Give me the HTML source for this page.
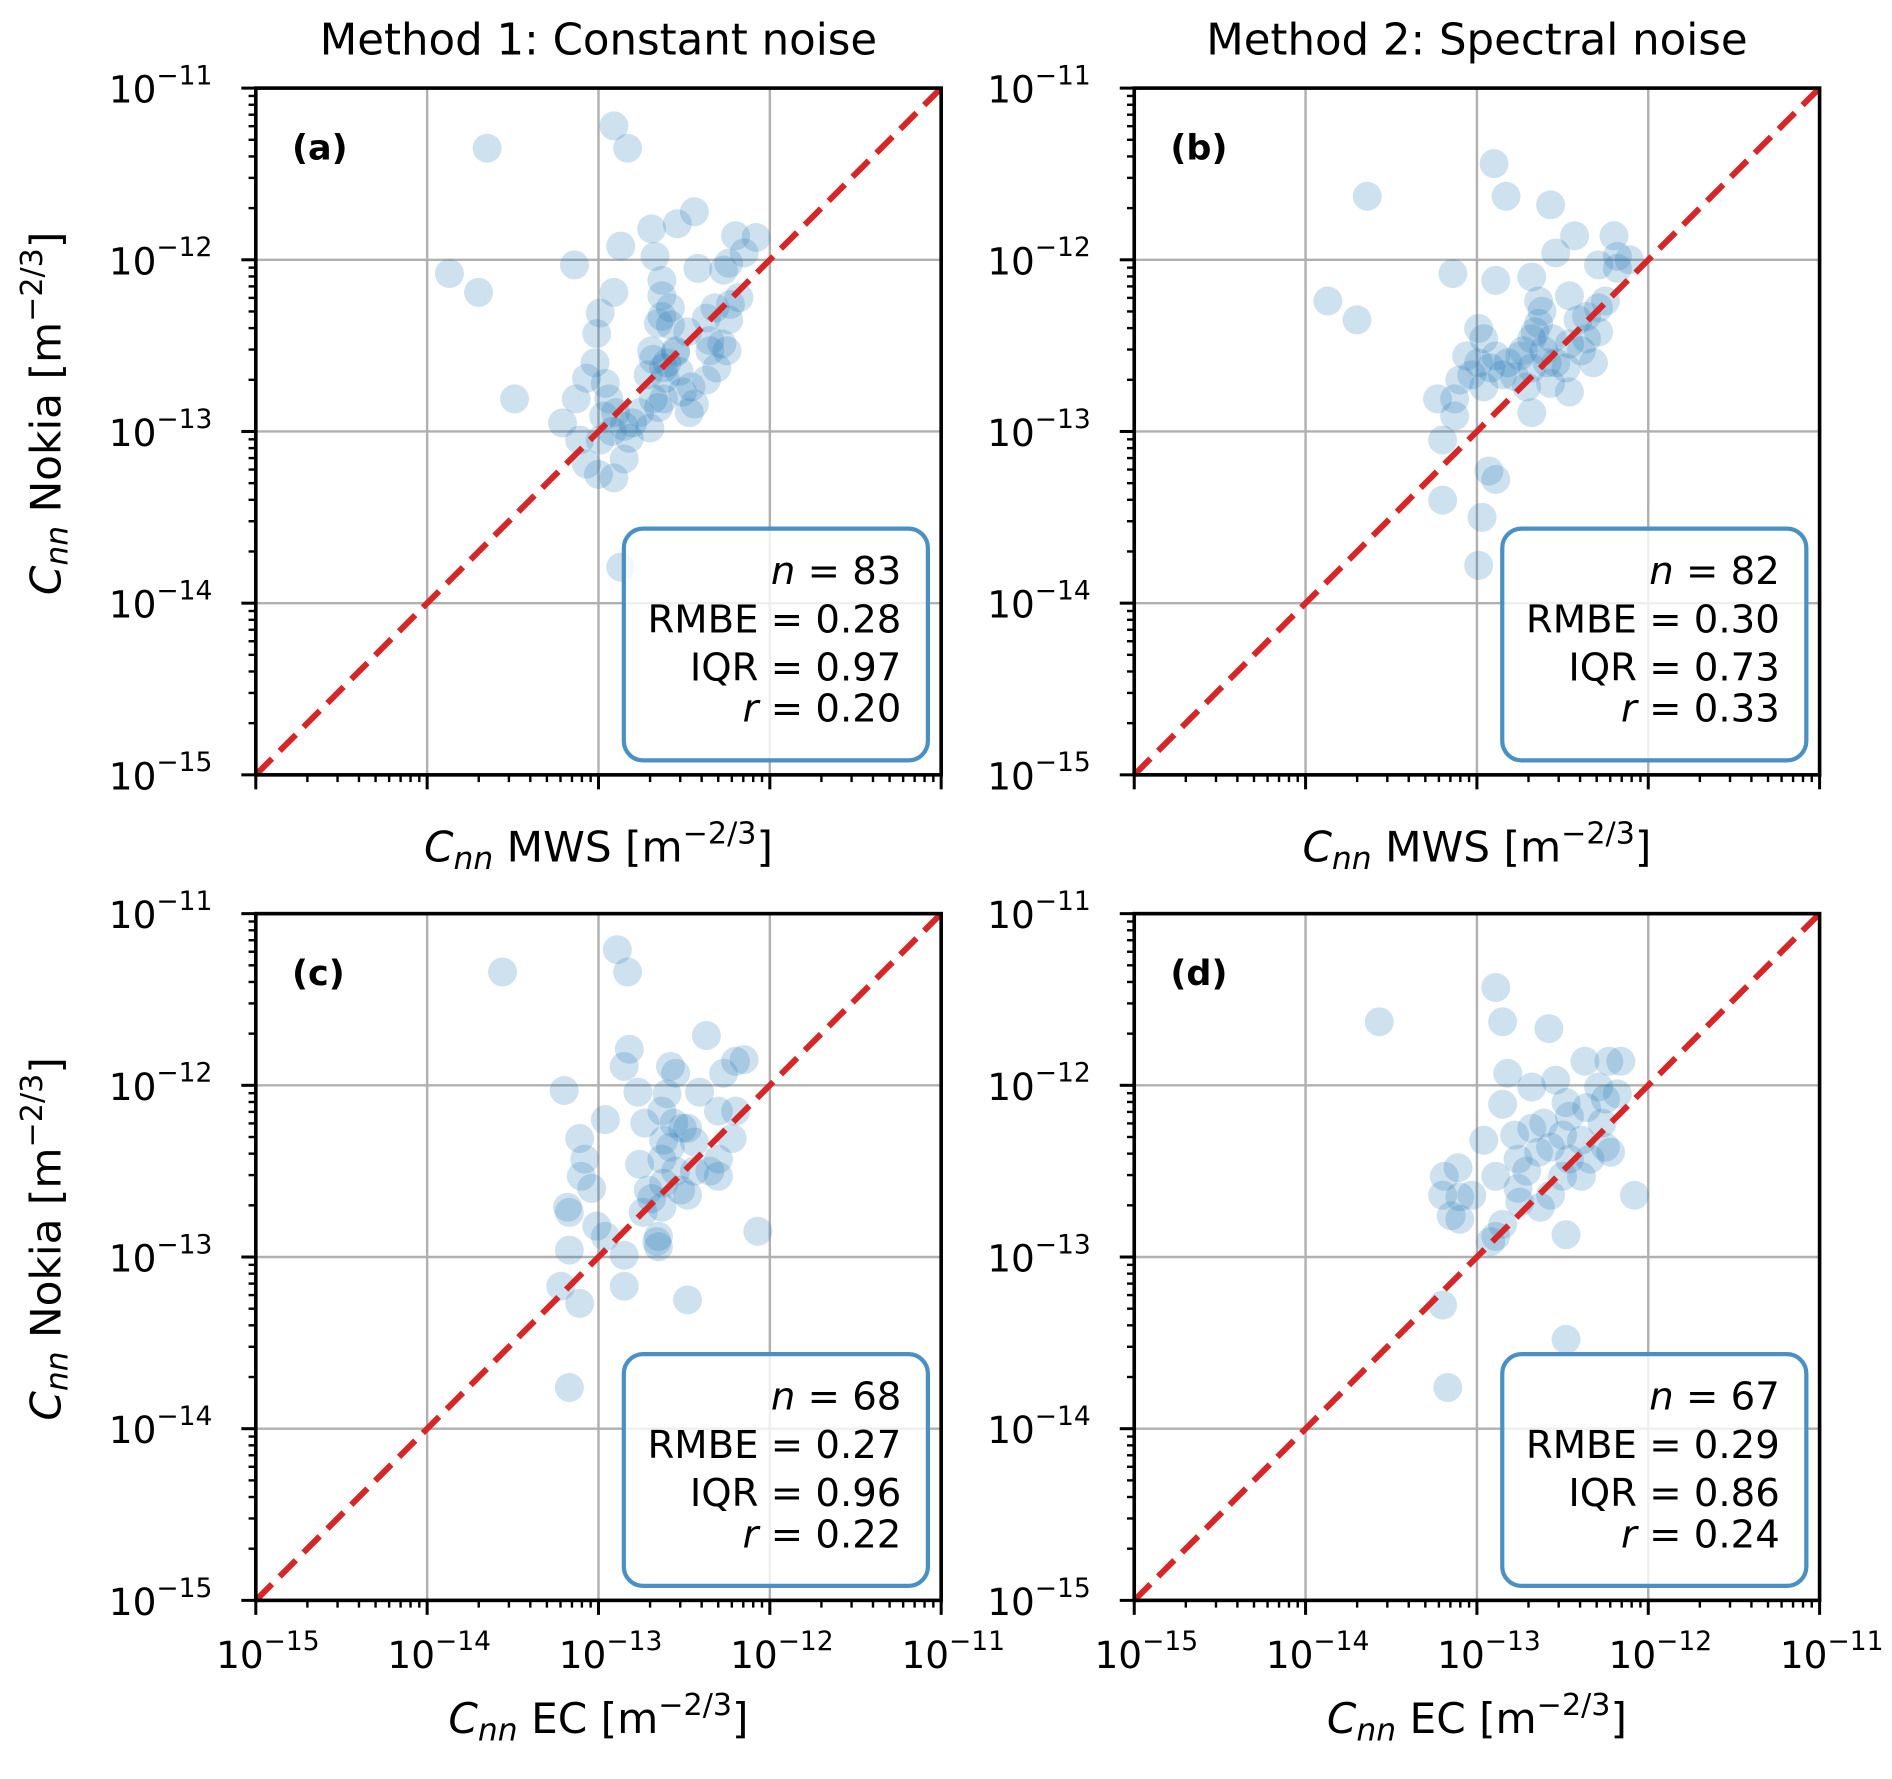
<!DOCTYPE html>
<html><head><meta charset="utf-8">
<style>
html,body{margin:0;padding:0;background:#fff;}
svg{display:block;font-family:"DejaVu Sans","Liberation Sans",sans-serif;}
</style></head>
<body>
<svg id="fig" width="1892" height="1779" viewBox="0 0 1568 1474" preserveAspectRatio="none" xmlns="http://www.w3.org/2000/svg">
<rect width="1568" height="1474" fill="#fff"/>
<text x="496" y="45" font-size="36" text-anchor="middle">Method 1: Constant noise</text>
<text x="1224" y="45" font-size="36" text-anchor="middle">Method 2: Spectral noise</text>
</svg>
<script>
// log10 values
const aX=[-13.65,-12.91,-12.83,-12.44,-12.54,-12.69,-12.87,-12.67,-12.20,-12.08,-12.15,-12.24,-12.42,-12.27,-12.63,-13.14,-12.63,-13.87,-13.70,-12.91,-12.63,-12.58,-12.99,-13.01,-12.32,-12.24,-12.23,-12.55,-12.69,-13.02,-12.68,-12.35,-12.28,-13.07,-13.13,-12.96,-12.71,-12.61,-12.51,-12.31,-12.37,-13.49,-12.94,-12.90,-12.68,-12.46,-12.85,-12.65,-12.80,-13.21,-12.99,-12.47,-12.92,-13.07,-13.00,-12.85,-12.91,-12.87,-12.55,-12.65,-12.60,-12.48,-12.58,-12.37,-12.18,-12.76,-12.62,-12.44,-12.35,-13.11,-12.97,-12.82,-12.70,-12.62,-12.53,-12.25];
const aY=[-11.35,-11.22,-11.35,-11.72,-11.79,-11.82,-11.92,-11.98,-11.86,-11.87,-11.96,-12.02,-12.05,-12.06,-12.12,-12.03,-12.21,-12.08,-12.19,-12.19,-12.33,-12.38,-12.31,-12.43,-12.28,-12.35,-12.26,-12.53,-12.53,-12.60,-12.58,-12.53,-12.49,-12.69,-12.81,-12.72,-12.67,-12.69,-12.77,-12.63,-12.70,-12.81,-12.81,-12.89,-12.81,-12.74,-12.97,-12.86,-12.95,-12.95,-13.05,-12.89,-13.00,-13.19,-13.25,-13.16,-13.27,-13.79,-12.54,-12.37,-12.60,-12.42,-12.28,-12.34,-12.22,-12.89,-12.81,-12.84,-12.47,-13.05,-12.91,-13.04,-12.98,-12.63,-12.65,-12.53];
const bX=[-12.90,-12.83,-12.57,-13.64,-12.43,-12.20,-12.18,-12.54,-12.11,-12.29,-13.14,-12.89,-12.68,-13.87,-13.70,-12.64,-12.46,-12.64,-12.68,-12.25,-12.29,-12.41,-12.99,-12.96,-13.06,-12.99,-13.03,-12.92,-12.75,-12.61,-12.54,-12.46,-12.36,-12.85,-12.78,-12.71,-12.57,-12.46,-12.96,-13.10,-13.13,-12.68,-13.23,-13.20,-13.13,-12.93,-12.89,-13.20,-12.97,-12.99,-12.73,-12.66,-12.62,-12.56,-12.39,-12.48,-12.32,-12.82,-12.89,-12.59,-12.68,-12.29,-12.36,-12.18];
const bY=[-11.44,-11.63,-11.68,-11.63,-11.86,-11.86,-11.98,-11.96,-12.00,-12.03,-12.08,-12.12,-12.10,-12.24,-12.35,-12.24,-12.21,-12.37,-12.46,-12.24,-12.42,-12.35,-12.40,-12.46,-12.56,-12.60,-12.67,-12.63,-12.56,-12.53,-12.60,-12.49,-12.46,-12.67,-12.68,-12.74,-12.72,-12.77,-12.74,-12.70,-12.81,-12.89,-12.81,-13.05,-12.91,-13.23,-13.28,-13.40,-13.50,-13.78,-12.53,-12.42,-12.30,-12.46,-12.53,-12.63,-12.60,-12.60,-12.56,-12.60,-12.63,-12.28,-12.33,-12.05];
const cX=[-13.56,-12.89,-12.83,-12.82,-12.37,-12.85,-12.58,-12.55,-12.20,-12.15,-12.27,-13.20,-12.96,-12.77,-12.41,-12.60,-12.56,-12.63,-12.20,-12.30,-13.11,-12.73,-12.51,-12.48,-12.22,-13.08,-13.10,-12.58,-12.44,-12.76,-12.63,-12.30,-12.30,-12.62,-12.48,-12.69,-12.35,-13.18,-13.17,-13.04,-12.52,-13.01,-12.96,-12.74,-12.63,-13.17,-12.07,-12.65,-12.85,-12.66,-12.65,-13.22,-12.85,-13.11,-12.48,-13.17,-12.71,-12.55,-12.44,-12.62];
const cY=[-11.34,-11.21,-11.34,-11.79,-11.71,-11.89,-11.89,-11.93,-11.86,-11.85,-11.93,-12.03,-12.20,-12.04,-12.04,-12.05,-12.22,-12.15,-12.15,-12.15,-12.31,-12.22,-12.25,-12.25,-12.31,-12.43,-12.53,-12.36,-12.33,-12.46,-12.43,-12.43,-12.53,-12.57,-12.64,-12.66,-12.50,-12.71,-12.74,-12.60,-12.61,-12.82,-12.88,-12.74,-12.71,-12.96,-12.85,-12.88,-12.99,-12.91,-12.94,-13.17,-13.17,-13.27,-13.25,-13.76,-12.61,-12.50,-12.50,-12.32];
const dX=[-12.89,-12.85,-12.58,-13.57,-12.37,-12.23,-12.16,-12.82,-12.54,-12.68,-12.85,-12.48,-12.29,-12.25,-12.18,-12.46,-12.36,-12.78,-12.68,-12.61,-12.50,-12.39,-12.27,-12.76,-12.64,-12.57,-12.46,-12.96,-12.76,-12.71,-12.50,-12.22,-12.25,-12.57,-12.63,-12.75,-12.89,-13.11,-13.19,-13.20,-13.10,-13.03,-13.15,-13.10,-12.08,-12.85,-12.89,-12.48,-12.92,-13.20,-13.17,-12.48,-12.34,-12.39];
const dY=[-11.43,-11.63,-11.67,-11.63,-11.86,-11.86,-11.86,-11.93,-11.97,-12.01,-12.11,-12.10,-12.01,-12.08,-12.05,-12.18,-12.13,-12.29,-12.25,-12.22,-12.29,-12.32,-12.22,-12.43,-12.39,-12.36,-12.43,-12.32,-12.60,-12.50,-12.53,-12.39,-12.36,-12.64,-12.71,-12.68,-12.53,-12.48,-12.53,-12.64,-12.65,-12.64,-12.76,-12.78,-12.64,-12.81,-12.88,-12.87,-12.91,-13.28,-13.76,-13.48,-12.43,-12.53];
const tickExps=[-15,-14,-13,-12,-11];
const statsA=["83","0.28","0.97","0.20"];
const statsB=["82","0.30","0.73","0.33"];
const statsC=["68","0.27","0.96","0.22"];
const statsD=["67","0.29","0.86","0.24"];

const NS="http://www.w3.org/2000/svg";
const svg=document.getElementById('fig');
function mk(tag,attrs,parent){const e=document.createElementNS(NS,tag);for(const k in attrs)e.setAttribute(k,attrs[k]);(parent||svg).appendChild(e);return e;}
const W=568,H=569,LMIN=-15,LMAX=-11;

function panel(key,L,T,xs,ys,stats,letter,xlabel,showXTickLabels,showYTitle){
  const g=mk('g',{});
  
  
  const sx=v=>L+(v-LMIN)/(LMAX-LMIN)*W;
  const sy=v=>T+H-(v-LMIN)/(LMAX-LMIN)*H;
  for(const e of tickExps.slice(1,-1)){
    const gl=mk('line',{x1:sx(e),x2:sx(e),y1:T,y2:T+H,stroke:'#b0b0b0','stroke-width':2},g);
    
    
    const gl2=mk('line',{x1:L,x2:L+W,y1:sy(e),y2:sy(e),stroke:'#b0b0b0','stroke-width':2},g);
    
    
  }
  for(let i=0;i<xs.length;i++){
    const c=mk('circle',{cx:sx(xs[i]),cy:sy(ys[i]),r:12,fill:'#1f77b4','fill-opacity':0.22},g);
    
    
  }
  const ln=mk('line',{x1:sx(LMIN),y1:sy(LMIN),x2:sx(LMAX),y2:sy(LMAX),stroke:'#d62728','stroke-width':5,'stroke-dasharray':'19 9'},g);
  
  
  const sp=mk('rect',{x:L,y:T,width:W,height:H,fill:'none',stroke:'#000','stroke-width':3},g);
  
  
  for(let d=LMIN;d<LMAX;d++){
    for(let m=1;m<=9;m++){
      const v=d+Math.log10(m);
      const len=m===1?12:6, wdt=m===1?2.5:2;
      mk('line',{x1:sx(v),x2:sx(v),y1:T+H,y2:T+H+len,stroke:'#000','stroke-width':wdt},g);
      mk('line',{x1:L,x2:L-len,y1:sy(v),y2:sy(v),stroke:'#000','stroke-width':wdt},g);
    }
  }
  mk('line',{x1:sx(LMAX),x2:sx(LMAX),y1:T+H,y2:T+H+12,stroke:'#000','stroke-width':2.5},g);
  mk('line',{x1:L,x2:L-12,y1:sy(LMAX),y2:sy(LMAX),stroke:'#000','stroke-width':2.5},g);
  for(const e of tickExps){
    const t=mk('text',{x:L-36,y:sy(e)+12,'font-size':31,'text-anchor':'end'},g);
    
    
    t.innerHTML='10<tspan font-size="22" dy="-15">\u2212'+(-e)+'</tspan>';
  }
  if(showXTickLabels){
    for(const e of tickExps){
      const t=mk('text',{x:sx(e)+10,y:T+H+56,'font-size':31,'text-anchor':'middle'},g);
      
      
      t.innerHTML='10<tspan font-size="22" dy="-15">\u2212'+(-e)+'</tspan>';
    }
  }
  const xl=mk('text',{x:L+W/2,y:showXTickLabels?T+H+110:T+H+72,'font-size':35,'text-anchor':'middle'},g);
  
  
  xl.innerHTML='<tspan font-style="italic">C</tspan><tspan font-style="italic" font-size="26" dy="6">nn</tspan><tspan dy="-6"> '+xlabel+' [m</tspan><tspan font-size="25" dy="-15">\u22122/3</tspan><tspan dy="15">]</tspan>';
  if(showYTitle){
    const yl=mk('text',{x:0,y:0,'font-size':35,'text-anchor':'middle',transform:'translate(50,'+(T+H/2-15)+') rotate(-90)'},g);
    
    
    yl.innerHTML='<tspan font-style="italic">C</tspan><tspan font-style="italic" font-size="26" dy="6">nn</tspan><tspan dy="-6"> Nokia [m</tspan><tspan font-size="25" dy="-15">\u22122/3</tspan><tspan dy="15">]</tspan>';
  }
  const pl=mk('text',{x:L+30,y:T+59,'font-size':29,'font-weight':'bold'},g);
  
  
  pl.textContent='('+letter+')';
  const bx=L+305, by=T+365, bw=252, bh=192;
  const box=mk('rect',{x:bx,y:by,width:bw,height:bh,rx:16,fill:'#fff','fill-opacity':0.8,stroke:'#4a90c4','stroke-width':3.5},g);
  
  
  const rx=bx+bw-22;
  const lines=['<tspan font-style="italic">n</tspan> = '+stats[0],'RMBE = '+stats[1],'IQR = '+stats[2],'<tspan font-style="italic">r</tspan> = '+stats[3]];
  const ys2=[46,86,126,160];
  for(let i=0;i<4;i++){
    const t=mk('text',{x:rx,y:by+ys2[i],'font-size':32,'text-anchor':'end'},g);
    
    
    t.innerHTML=lines[i];
  }
}
panel('a',212,73,aX,aY,statsA,'a','MWS',false,true);
panel('b',940,73,bX,bY,statsB,'b','MWS',false,false);
panel('c',212,757,cX,cY,statsC,'c','EC',true,true);
panel('d',940,757,dX,dY,statsD,'d','EC',true,false);
</script>
</body></html>
